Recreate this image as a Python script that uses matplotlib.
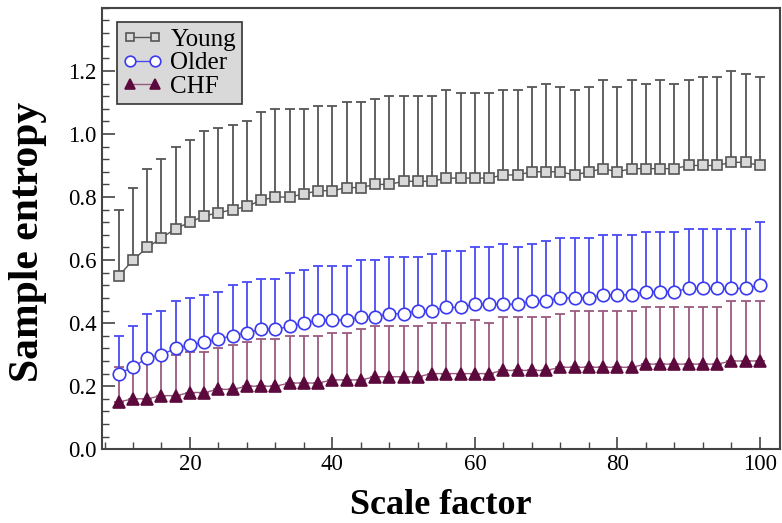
import numpy as np
import matplotlib
matplotlib.use('Agg')
import matplotlib.pyplot as plt
from matplotlib.ticker import MultipleLocator

plt.rcParams['font.family'] = ['Liberation Serif', 'DejaVu Serif']

scale = list(range(10, 101, 2))

young_mean = [0.55, 0.60, 0.64, 0.67, 0.70, 0.72, 0.74, 0.75, 0.76, 0.77,
              0.79, 0.80, 0.80, 0.81, 0.82, 0.82, 0.83, 0.83, 0.84, 0.84,
              0.85, 0.85, 0.85, 0.86, 0.86, 0.86, 0.86, 0.87, 0.87, 0.88,
              0.88, 0.88, 0.87, 0.88, 0.89, 0.88, 0.89, 0.89, 0.89, 0.89,
              0.90, 0.90, 0.90, 0.91, 0.91, 0.90]
young_upper = [0.76, 0.83, 0.89, 0.92, 0.96, 0.98, 1.01, 1.02, 1.03, 1.04,
               1.07, 1.08, 1.08, 1.08, 1.09, 1.09, 1.10, 1.10, 1.11, 1.12,
               1.12, 1.12, 1.12, 1.14, 1.13, 1.13, 1.13, 1.14, 1.14, 1.15,
               1.16, 1.15, 1.14, 1.15, 1.17, 1.15, 1.17, 1.16, 1.17, 1.16,
               1.17, 1.18, 1.18, 1.20, 1.19, 1.18]

older_mean = [0.24, 0.26, 0.29, 0.30, 0.32, 0.33, 0.34, 0.35, 0.36, 0.37,
              0.38, 0.38, 0.39, 0.40, 0.41, 0.41, 0.41, 0.42, 0.42, 0.43,
              0.43, 0.44, 0.44, 0.45, 0.45, 0.46, 0.46, 0.46, 0.46, 0.47,
              0.47, 0.48, 0.48, 0.48, 0.49, 0.49, 0.49, 0.50, 0.50, 0.50,
              0.51, 0.51, 0.51, 0.51, 0.51, 0.52]
older_upper = [0.36, 0.39, 0.43, 0.44, 0.47, 0.48, 0.49, 0.50, 0.52, 0.53,
               0.54, 0.54, 0.56, 0.57, 0.58, 0.58, 0.58, 0.60, 0.60, 0.61,
               0.61, 0.61, 0.62, 0.63, 0.63, 0.64, 0.64, 0.65, 0.64, 0.65,
               0.66, 0.67, 0.67, 0.67, 0.68, 0.68, 0.68, 0.69, 0.69, 0.69,
               0.70, 0.70, 0.70, 0.70, 0.70, 0.72]

chf_mean = [0.15, 0.16, 0.16, 0.17, 0.17, 0.18, 0.18, 0.19, 0.19, 0.20,
            0.20, 0.20, 0.21, 0.21, 0.21, 0.22, 0.22, 0.22, 0.23, 0.23,
            0.23, 0.23, 0.24, 0.24, 0.24, 0.24, 0.24, 0.25, 0.25, 0.25,
            0.25, 0.26, 0.26, 0.26, 0.26, 0.26, 0.26, 0.27, 0.27, 0.27,
            0.27, 0.27, 0.27, 0.28, 0.28, 0.28]
chf_upper = [0.26, 0.27, 0.28, 0.29, 0.30, 0.31, 0.31, 0.32, 0.33, 0.34,
             0.35, 0.35, 0.36, 0.36, 0.36, 0.37, 0.37, 0.38, 0.39, 0.39,
             0.39, 0.39, 0.40, 0.40, 0.40, 0.41, 0.40, 0.42, 0.42, 0.42,
             0.42, 0.43, 0.44, 0.44, 0.44, 0.44, 0.44, 0.45, 0.45, 0.45,
             0.45, 0.45, 0.45, 0.47, 0.47, 0.47]


def draw(ax, mean, upper, marker, face, edge, ecolor, ms, label, z):
    mean = np.array(mean)
    err = np.array(upper) - mean
    ax.errorbar(scale, mean, yerr=[np.zeros_like(err), err], fmt='none',
                ecolor=ecolor, elinewidth=1.3, capsize=3.5, capthick=1.3,
                zorder=z)
    ax.plot(scale, mean, color=ecolor, lw=1.0, marker=marker, ms=ms,
            mfc=face, mec=edge, mew=1.2, label=label, zorder=z + 0.5)


fig = plt.figure(figsize=(7.82, 5.23), dpi=100)
ax = fig.add_axes([0.130, 0.141, 0.868, 0.844])

draw(ax, chf_mean, chf_upper, '^', '#5c0a3e', '#5c0a3e', '#9a5a80', 8.5, 'CHF', 2)
draw(ax, older_mean, older_upper, 'o', 'white', '#3a3af0', '#4a4af5', 9, 'Older', 4)
draw(ax, young_mean, young_upper, 's', '#d8d8d8', '#555555', '#555555', 7.5, 'Young', 6)

ax.set_xlim(7.6, 102.9)
ax.set_ylim(0, 1.4)
ax.xaxis.set_major_locator(MultipleLocator(20))
ax.xaxis.set_minor_locator(MultipleLocator(4))
ax.yaxis.set_minor_locator(MultipleLocator(0.04))
ax.set_yticks(np.arange(0, 1.21, 0.2))
ax.set_yticklabels(['%.1f' % v for v in np.arange(0, 1.21, 0.2)])
ax.tick_params(which='both', direction='in', top=False, right=False,
               labelsize=16.5, color='#444444')
ax.tick_params(which='major', length=9, width=1.2)
ax.tick_params(which='minor', length=5, width=1.0)
for s in ax.spines.values():
    s.set_color('#444444')
    s.set_linewidth(1.5)

ax.set_xlabel('Scale factor', fontsize=26, fontweight='bold')
ax.set_ylabel('Sample entropy', fontsize=30, fontweight='bold')
ax.xaxis.set_label_coords(0.5, -0.09, transform=ax.transAxes)
ax.xaxis.label.set_va('top')
ax.yaxis.set_label_coords(-0.08, 0.47, transform=ax.transAxes)

handles, labels = ax.get_legend_handles_labels()
leg = ax.legend(handles[::-1], labels[::-1], loc='upper left', numpoints=2,
                fontsize=18, frameon=True, fancybox=False, borderpad=0.25,
                labelspacing=0.05, handlelength=1.6, handletextpad=0.3,
                borderaxespad=0.0, markerscale=0.85,
                bbox_to_anchor=(0.022, 0.968))
leg.get_frame().set_facecolor('#d9d9d9')
leg.get_frame().set_edgecolor('#333333')
leg.get_frame().set_linewidth(1.2)
leg.get_frame().set_alpha(1)

fig.savefig('out.png', dpi=100)
